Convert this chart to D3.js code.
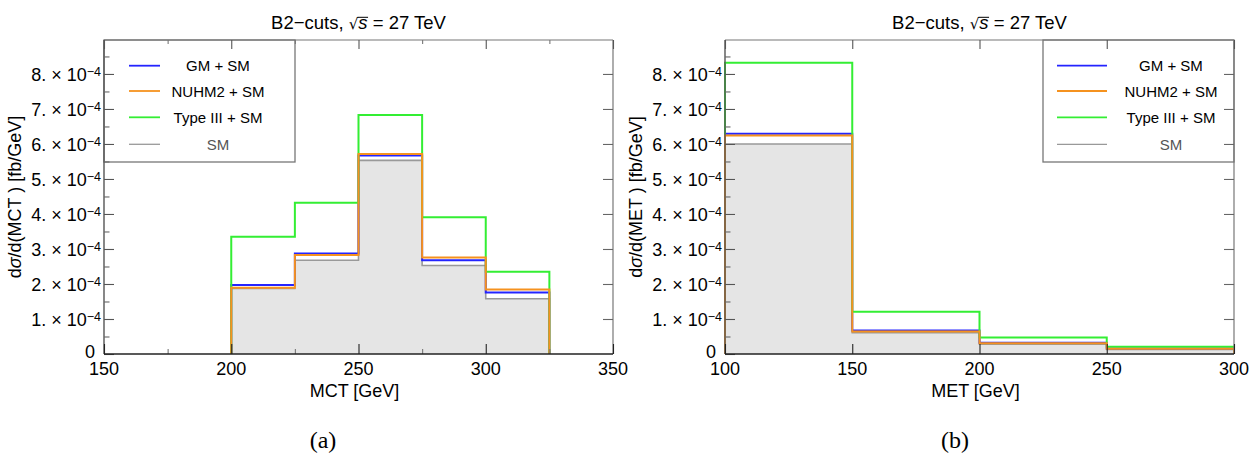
<!DOCTYPE html>
<html><head><meta charset="utf-8">
<script src="https://cdn.jsdelivr.net/npm/d3@7"></script>
<style>
body{margin:0;background:#fff}
svg{display:block}
svg{font-family:"Liberation Sans",Arial,Helvetica,sans-serif}
</style>
</head><body>
<svg id="c" width="1259" height="459"></svg>
<script>
// ---------- data ----------
const seriesNames = ["GM + SM", "NUHM2 + SM", "Type III + SM", "SM"];
const seriesColors = ["#2424ff", "#f5921f", "#33ee33", "#999999"];

const mctEdges   = [200, 225, 250, 275, 300, 325];
const mctGM      = [1.97e-4, 2.87e-4, 5.67e-4, 2.68e-4, 1.76e-4];
const mctNUHM2   = [1.89e-4, 2.83e-4, 5.71e-4, 2.76e-4, 1.84e-4];
const mctTypeIII = [3.35e-4, 4.32e-4, 6.83e-4, 3.91e-4, 2.35e-4];
const mctSM      = [1.87e-4, 2.68e-4, 5.53e-4, 2.53e-4, 1.58e-4];

const metEdges   = [100, 150, 200, 250, 300];
const metGM      = [6.29e-4, 0.67e-4, 0.32e-4, 0.16e-4];
const metNUHM2   = [6.24e-4, 0.64e-4, 0.31e-4, 0.15e-4];
const metTypeIII = [8.32e-4, 1.21e-4, 0.47e-4, 0.21e-4];
const metSM      = [6.00e-4, 0.61e-4, 0.28e-4, 0.13e-4];

const yMajorTicks = [0, 1e-4, 2e-4, 3e-4, 4e-4, 5e-4, 6e-4, 7e-4, 8e-4];
const yMinorTicks = [0.5e-4, 1.5e-4, 2.5e-4, 3.5e-4, 4.5e-4, 5.5e-4, 6.5e-4, 7.5e-4, 8.5e-4];
const yTickLabels = ["0", "1.", "2.", "3.", "4.", "5.", "6.", "7.", "8."];
const mctMajorTicks = [150, 200, 250, 300, 350];
const mctMinorTicks = [175, 225, 275, 325];
const metMajorTicks = [100, 150, 200, 250, 300];
const metMinorTicks = [];

const titleMain = "B2\u2212cuts, ";
const titleTail = " = 27 TeV";

// ---------- drawing ----------
const svg = d3.select("#c");

function stepPoints(edges, vals) {
  const p = [[edges[0], 0]];
  vals.forEach((v, i) => { p.push([edges[i], v]); p.push([edges[i + 1], v]); });
  p.push([edges[edges.length - 1], 0]);
  return p;
}

function panel(cfg) {
  const X0 = cfg.left, X1 = cfg.left + 509, Y0 = 40, Y1 = 354;
  const x = d3.scaleLinear().domain(cfg.xDomain).range([X0, X1]);
  const y = d3.scaleLinear().domain([0, 8.97e-4]).range([Y1, Y0]);
  const g = svg.append("g");

  const line = d3.line().x(d => x(d[0])).y(d => y(d[1]));
  const area = d3.area().x(d => x(d[0])).y0(y(0)).y1(d => y(d[1]));

  g.append("path").attr("d", area(stepPoints(cfg.edges, cfg.sm)))
    .attr("fill", "#e5e5e5").attr("stroke", "none");
  const order = [
    [cfg.sm, seriesColors[3], 1.6],
    [cfg.gm, seriesColors[0], 2],
    [cfg.t3, seriesColors[2], 2],
    [cfg.nu, seriesColors[1], 2]
  ];
  order.forEach(([vals, col, w]) => {
    g.append("path").attr("d", line(stepPoints(cfg.edges, vals)))
      .attr("fill", "none").attr("stroke", col).attr("stroke-width", w)
      .attr("stroke-linejoin", "miter");
  });

  // legend
  const L = cfg.legend;
  g.append("rect").attr("x", L.x0).attr("y", Y0).attr("width", L.x1 - L.x0).attr("height", 162 - Y0)
    .attr("fill", "none").attr("stroke", "#777").attr("stroke-width", 1.3);
  const rows = [65.7, 91, 117.3, 144.3];
  [0, 1, 2, 3].forEach((si, i) => {
    g.append("line").attr("x1", L.lx0).attr("x2", L.lx1).attr("y1", rows[i]).attr("y2", rows[i])
      .attr("stroke", seriesColors[si]).attr("stroke-width", si === 3 ? 1.3 : 1.8);
    g.append("text").attr("x", L.tx).attr("y", rows[i] + 5.5).attr("text-anchor", "middle")
      .attr("font-size", 15).attr("fill", si === 3 ? "#555" : "#000").text(seriesNames[si]);
  });

  // frame
  g.append("line").attr("x1", X0).attr("x2", X1).attr("y1", Y0).attr("y2", Y0).attr("stroke", "#777").attr("stroke-width", 1.2);
  g.append("line").attr("x1", X1).attr("x2", X1).attr("y1", Y0).attr("y2", Y1).attr("stroke", "#777").attr("stroke-width", 1.2);
  g.append("line").attr("x1", X0).attr("x2", X0).attr("y1", Y0).attr("y2", Y1).attr("stroke", "#555").attr("stroke-width", 1.4);

  function tickAxis(axis, tr, color) {
    const a = g.append("g").attr("transform", tr).call(axis);
    a.select(".domain").remove();
    a.selectAll("text").remove();
    a.selectAll("line").attr("stroke", color).attr("stroke-width", 1.1);
    return a;
  }
  tickAxis(d3.axisLeft(y).tickValues(yMajorTicks).tickSize(-10), `translate(${X0},0)`, "#555");
  tickAxis(d3.axisLeft(y).tickValues(yMinorTicks).tickSize(-5.5), `translate(${X0},0)`, "#666");
  tickAxis(d3.axisRight(y).tickValues(yMajorTicks.slice(1)).tickSize(-10), `translate(${X1},0)`, "#666");
  tickAxis(d3.axisTop(x).tickValues(cfg.xMajor).tickSize(-9), `translate(0,${Y0})`, "#555");
  tickAxis(d3.axisTop(x).tickValues(cfg.xMinor).tickSize(-4), `translate(0,${Y0})`, "#777");
  tickAxis(d3.axisBottom(x).tickValues(cfg.xMajor).tickSize(-10), `translate(0,${Y1})`, "#222");
  tickAxis(d3.axisBottom(x).tickValues(cfg.xMinor).tickSize(-5), `translate(0,${Y1})`, "#777");
  g.append("line").attr("x1", X0).attr("x2", X1).attr("y1", Y1).attr("y2", Y1).attr("stroke", "#222").attr("stroke-width", 1.5);

  // y tick labels
  yMajorTicks.forEach((v, i) => {
    if (i === 0) {
      g.append("text").attr("x", X0 - 9).attr("y", y(v) + 4).attr("text-anchor", "end")
        .attr("font-size", 18).text(yTickLabels[i]);
    } else {
      const t = g.append("text").attr("x", X0 - 3).attr("y", y(v) + 7.5).attr("text-anchor", "end")
        .attr("font-size", 18);
      t.append("tspan").text(yTickLabels[i] + " \u00d7 10");
      t.append("tspan").attr("font-size", 12.5).attr("dy", -5.5).text("\u22124");
    }
  });
  cfg.xMajor.forEach(v => {
    g.append("text").attr("x", x(v)).attr("y", 375).attr("text-anchor", "middle")
      .attr("font-size", 18).text(v);
  });

  g.append("text").attr("x", (X0 + X1) / 2 - 4).attr("y", 397).attr("text-anchor", "middle")
    .attr("font-size", 18).text(cfg.xLabel);
  const yl = g.append("text").attr("transform", `translate(${X0 - 83},${(Y0 + Y1) / 2}) rotate(-90)`)
    .attr("text-anchor", "middle").attr("font-size", 18);
  yl.append("tspan").text("d");
  yl.append("tspan").attr("font-style", "italic").text("\u03c3");
  yl.append("tspan").text("/d(" + cfg.varName + " ) [fb/GeV]");

  // title
  const tt = g.append("text").attr("x", (X0 + X1) / 2).attr("y", 29).attr("text-anchor", "middle")
    .attr("font-size", 18.5);
  tt.append("tspan").text(titleMain);
  tt.append("tspan").attr("font-size", 15).style("font-family", "DejaVu Sans").text("\u221a");
  tt.append("tspan").attr("font-style", "italic").text("s");
  tt.append("tspan").text(titleTail);
  const node = tt.node();
  const iRad = titleMain.length, iS = iRad + 1;
  const radEnd = node.getEndPositionOfChar(iRad).x;
  const sEnd = node.getEndPositionOfChar(iS).x;
  g.append("line").attr("x1", radEnd - 0.8).attr("x2", sEnd + 0.5).attr("y1", 17.3).attr("y2", 17.3)
    .attr("stroke", "#000").attr("stroke-width", 1);

  // caption
  svg.append("text").attr("x", cfg.capX).attr("y", 448).attr("text-anchor", "middle")
    .style("font-family", "'Liberation Serif', 'DejaVu Serif', serif").attr("font-size", 24).text(cfg.caption);
}

panel({
  left: 104, xDomain: [150, 350], edges: mctEdges,
  gm: mctGM, nu: mctNUHM2, t3: mctTypeIII, sm: mctSM,
  xMajor: mctMajorTicks, xMinor: mctMinorTicks,
  xLabel: "MCT [GeV]", varName: "MCT",
  legend: {x0: 104, x1: 295, lx0: 129, lx1: 160, tx: 218},
  caption: "(a)", capX: 323
});
panel({
  left: 725, xDomain: [100, 300], edges: metEdges,
  gm: metGM, nu: metNUHM2, t3: metTypeIII, sm: metSM,
  xMajor: metMajorTicks, xMinor: metMinorTicks,
  xLabel: "MET [GeV]", varName: "MET",
  legend: {x0: 1043, x1: 1234, lx0: 1057, lx1: 1107, tx: 1171},
  caption: "(b)", capX: 955
});
</script>
</body></html>
